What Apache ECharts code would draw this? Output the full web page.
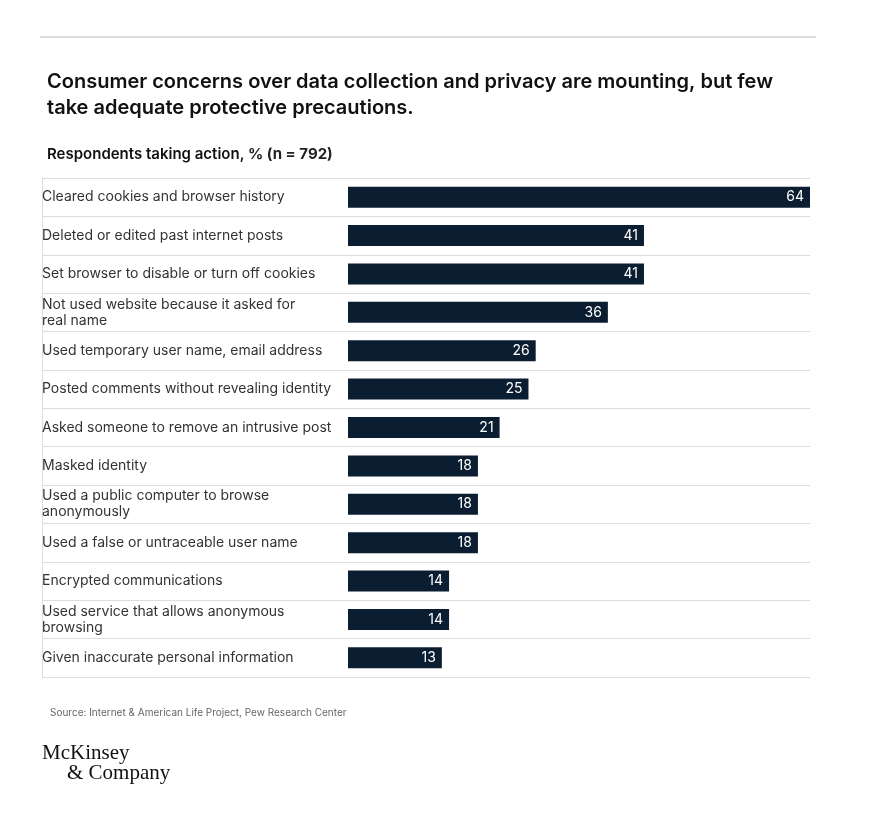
<!DOCTYPE html>
<html><head><meta charset="utf-8">
<script src="https://cdn.jsdelivr.net/npm/echarts@6/dist/echarts.min.js"></script>
<style>html,body{margin:0;padding:0;background:#fff}#c{width:869px;height:816px}</style>
</head><body><div id="c"></div>
<script>
const categories = [
  "Cleared cookies and browser history",
  "Deleted or edited past internet posts",
  "Set browser to disable or turn off cookies",
  "Not used website because it asked for\nreal name",
  "Used temporary user name, email address",
  "Posted comments without revealing identity",
  "Asked someone to remove an intrusive post",
  "Masked identity",
  "Used a public computer to browse\nanonymously",
  "Used a false or untraceable user name",
  "Encrypted communications",
  "Used service that allows anonymous\nbrowsing",
  "Given inaccurate personal information"
];
const values = [64, 41, 41, 36, 26, 25, 21, 18, 18, 18, 14, 14, 13];
const title = "Consumer concerns over data collection and privacy are mounting, but few\ntake adequate protective precautions.";
const source = "Source: Internet & American Life Project, Pew Research Center";

const chart = echarts.init(document.getElementById('c'));
const font = 'Inter, "Noto Sans", sans-serif';
chart.setOption({
  animation: false,
  title: [
    {text: title, left: 42, top: 64, textStyle: {fontFamily: font, fontSize: 20, fontWeight: 600, color: '#111', lineHeight: 26}},
    {text: '{b|Respondents taking action,} % (n = 792)', left: 42, top: 142,
     textStyle: {fontFamily: font, fontSize: 15, color: '#222', rich: {b: {fontFamily: font, fontSize: 15, fontWeight: 600, color: '#111'}}}},
    {text: source, left: 45, top: 703, textStyle: {fontFamily: font, fontSize: 10, fontWeight: 'normal', color: '#666'}}
  ],
  graphic: [
    {type: 'line', shape: {x1: 40, y1: 37, x2: 816, y2: 37}, style: {stroke: '#bbb', lineWidth: 1}},
    {type: 'text', left: 42, top: 743, style: {text: 'McKinsey', font: '21px "Liberation Serif", serif', fill: '#111'}},
    {type: 'text', left: 67, top: 763, style: {text: '& Company', font: '21px "Liberation Serif", serif', fill: '#111'}}
  ],
  grid: [
    {left: 348, right: 59, top: 178, height: 499},
    {left: 42, right: 59, top: 178, height: 499}
  ],
  xAxis: [
    {gridIndex: 0, type: 'value', min: 0, max: 64, show: false},
    {gridIndex: 1, type: 'value', min: 0, max: 1, show: false}
  ],
  yAxis: [
    {gridIndex: 0, type: 'category', data: categories, inverse: true,
     axisLine: {show: false}, axisTick: {show: false}, splitLine: {show: false},
     axisLabel: {align: 'left', margin: 306, fontFamily: font, fontSize: 14, color: '#333', lineHeight: 16}},
    {gridIndex: 1, type: 'category', data: categories, inverse: true,
     axisLine: {show: true, lineStyle: {color: '#ddd'}}, axisTick: {show: false}, axisLabel: {show: false},
     splitLine: {show: true, lineStyle: {color: '#ddd', width: 1}}}
  ],
  series: [{
    type: 'bar', xAxisIndex: 0, yAxisIndex: 0, data: values, barWidth: 21,
    itemStyle: {color: '#0b1d31'},
    label: {show: true, position: 'insideRight', distance: 6, color: '#fff', fontFamily: font, fontSize: 14}
  }]
});
</script></body></html>
